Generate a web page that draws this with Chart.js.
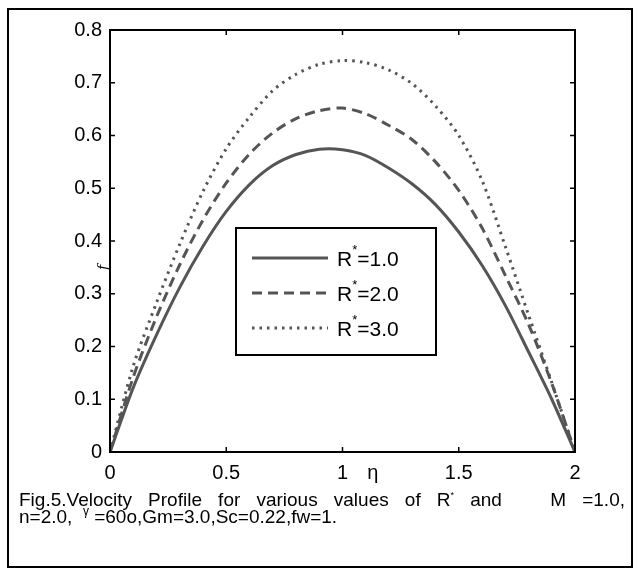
<!DOCTYPE html>
<html>
<head>
<meta charset="utf-8">
<script src="https://cdn.jsdelivr.net/npm/chart.js@4/dist/chart.umd.min.js"></script>
<style>
  html, body { margin: 0; padding: 0; background: #fff; }
  #wrap { position: relative; width: 639px; height: 575px; overflow: hidden; font-family: "Liberation Sans", Arial, sans-serif; }
  #frame { position: absolute; left: 7px; top: 8px; width: 622px; height: 556px; border: 2px solid #000; }
  #chart { position: absolute; left: 0; top: 0; }
  .cap { position: absolute; left: 19px; width: 606px; font-size: 19px; line-height: 20px; color: #000; white-space: nowrap; }
  #cap1 { top: 490px; text-align: justify; text-align-last: justify; white-space: normal; }
  #cap2 { top: 507px; }
  sup { font-size: 9px; vertical-align: 8px; line-height: 0; }
</style>
</head>
<body>
<div id="wrap">
  <div id="frame"></div>
  <canvas id="chart" width="639" height="575"></canvas>
  <div class="cap" id="cap1">Fig.5.Velocity Profile for various values of R<sup>*</sup> and &nbsp;&nbsp;M =1.0,</div>
  <div class="cap" id="cap2">n=2.0, &nbsp;<sup style="font-size:12px">γ</sup> =60o,Gm=3.0,Sc=0.22,fw=1.</div>
</div>
<script>
// eta grid (x axis)
const eta = [0, 0.1, 0.2, 0.3, 0.4, 0.5, 0.6, 0.7, 0.8, 0.9, 1.0,
             1.1, 1.2, 1.3, 1.4, 1.5, 1.6, 1.7, 1.8, 1.9, 2.0];

// velocity f for each R*
const fR1 = [0, 0.122, 0.222, 0.312, 0.39, 0.456, 0.507, 0.543, 0.564, 0.574, 0.573,
             0.562, 0.538, 0.508, 0.469, 0.417, 0.354, 0.278, 0.19, 0.10, 0];
const fR2 = [0, 0.142, 0.256, 0.355, 0.44, 0.51, 0.565, 0.605, 0.632, 0.647, 0.652,
             0.641, 0.619, 0.592, 0.55, 0.496, 0.425, 0.335, 0.242, 0.13, 0];
const fR3 = [0, 0.163, 0.283, 0.394, 0.494, 0.575, 0.635, 0.685, 0.716, 0.735, 0.742,
             0.738, 0.724, 0.698, 0.656, 0.6, 0.515, 0.39, 0.26, 0.132, 0];

const rLabels = ["1.0", "2.0", "3.0"];
const xTicks = [0, 0.5, 1, 1.5, 2];
const yTicks = [0, 0.1, 0.2, 0.3, 0.4, 0.5, 0.6, 0.7, 0.8];

const FONT = '"Liberation Sans", Arial, sans-serif';
const lineColor = "#555555";

function toPoints(vals) {
  return eta.map((x, i) => ({ x: x, y: vals[i] }));
}

// Box, inward ticks, axis labels and legend
const decorations = {
  id: "decorations",
  afterDatasetsDraw(chart) {
    const ctx = chart.ctx;
    const a = chart.chartArea;
    const xs = chart.scales.x;
    const ys = chart.scales.y;
    ctx.save();
    ctx.strokeStyle = "#000";
    ctx.lineWidth = 2;
    ctx.setLineDash([]);
    ctx.strokeRect(a.left, a.top, a.right - a.left, a.bottom - a.top);

    ctx.lineWidth = 1.5;
    const tl = 5;
    ctx.beginPath();
    xTicks.forEach(v => {
      const px = xs.getPixelForValue(v);
      ctx.moveTo(px, a.bottom); ctx.lineTo(px, a.bottom - tl);
      ctx.moveTo(px, a.top); ctx.lineTo(px, a.top + tl);
    });
    yTicks.forEach(v => {
      const py = ys.getPixelForValue(v);
      ctx.moveTo(a.left, py); ctx.lineTo(a.left + tl, py);
      ctx.moveTo(a.right, py); ctx.lineTo(a.right - tl, py);
    });
    ctx.stroke();

    // eta label
    ctx.fillStyle = "#000";
    ctx.font = "20px " + FONT;
    ctx.textAlign = "center";
    ctx.textBaseline = "middle";
    ctx.fillText("η", xs.getPixelForValue(1.13), a.bottom + 21);

    // f label, rotated
    ctx.save();
    ctx.translate(a.left - 6, ys.getPixelForValue(0.35));
    ctx.rotate(-Math.PI / 2);
    ctx.font = "italic 14px 'DejaVu Serif', serif";
    ctx.fillText("f", 0, 0);
    ctx.restore();

    // legend box
    const lx = 236, ly = 228, lw = 200, lh = 127;
    ctx.fillStyle = "#fff";
    ctx.fillRect(lx, ly, lw, lh);
    ctx.lineWidth = 2;
    ctx.strokeStyle = "#000";
    ctx.strokeRect(lx, ly, lw, lh);
    const rowY = [258, 293, 328];
    chart.data.datasets.forEach((ds, i) => {
      const y = rowY[i];
      ctx.strokeStyle = ds.borderColor;
      ctx.lineWidth = ds.borderWidth;
      ctx.setLineDash(ds.borderDash || []);
      ctx.beginPath();
      ctx.moveTo(252, y);
      ctx.lineTo(328, y);
      ctx.stroke();
      ctx.setLineDash([]);
      ctx.fillStyle = "#000";
      ctx.textAlign = "left";
      ctx.textBaseline = "alphabetic";
      ctx.font = "21px " + FONT;
      const base = y + 8;
      ctx.fillText("R", 337, base);
      const rw = ctx.measureText("R").width;
      ctx.font = "13px " + FONT;
      ctx.fillText("*", 337 + rw, base - 12);
      const sw = ctx.measureText("*").width;
      ctx.font = "21px " + FONT;
      ctx.fillText("=" + rLabels[i], 337 + rw + sw, base);
    });
    ctx.restore();
  }
};

new Chart(document.getElementById("chart"), {
  type: "line",
  data: {
    datasets: [
      { label: "R*=" + rLabels[0], data: toPoints(fR1), borderColor: lineColor, borderWidth: 3, borderDash: [] },
      { label: "R*=" + rLabels[1], data: toPoints(fR2), borderColor: lineColor, borderWidth: 3, borderDash: [10, 6] },
      { label: "R*=" + rLabels[2], data: toPoints(fR3), borderColor: lineColor, borderWidth: 3, borderDash: [2.5, 5] }
    ]
  },
  options: {
    responsive: false,
    animation: false,
    events: [],
    layout: { padding: { top: 30, right: 64, left: 0, bottom: 0 } },
    elements: { point: { radius: 0 }, line: { tension: 0.3, fill: false } },
    plugins: { legend: { display: false }, tooltip: { enabled: false } },
    scales: {
      x: {
        type: "linear",
        min: 0, max: 2,
        afterBuildTicks: s => { s.ticks = xTicks.map(v => ({ value: v })); },
        afterFit: s => { s.height = 123; },
        grid: { display: false, drawTicks: false },
        border: { display: false },
        ticks: { color: "#000", font: { family: FONT, size: 20 }, padding: 9, maxRotation: 0,
                 callback: v => String(v) }
      },
      y: {
        min: 0, max: 0.8,
        afterBuildTicks: s => { s.ticks = yTicks.map(v => ({ value: v })); },
        afterFit: s => { s.width = 110; },
        grid: { display: false, drawTicks: false },
        border: { display: false },
        ticks: { color: "#000", font: { family: FONT, size: 20 }, padding: 8,
                 callback: v => String(Math.round(v * 10) / 10) }
      }
    }
  },
  plugins: [decorations]
});
</script>
</body>
</html>
